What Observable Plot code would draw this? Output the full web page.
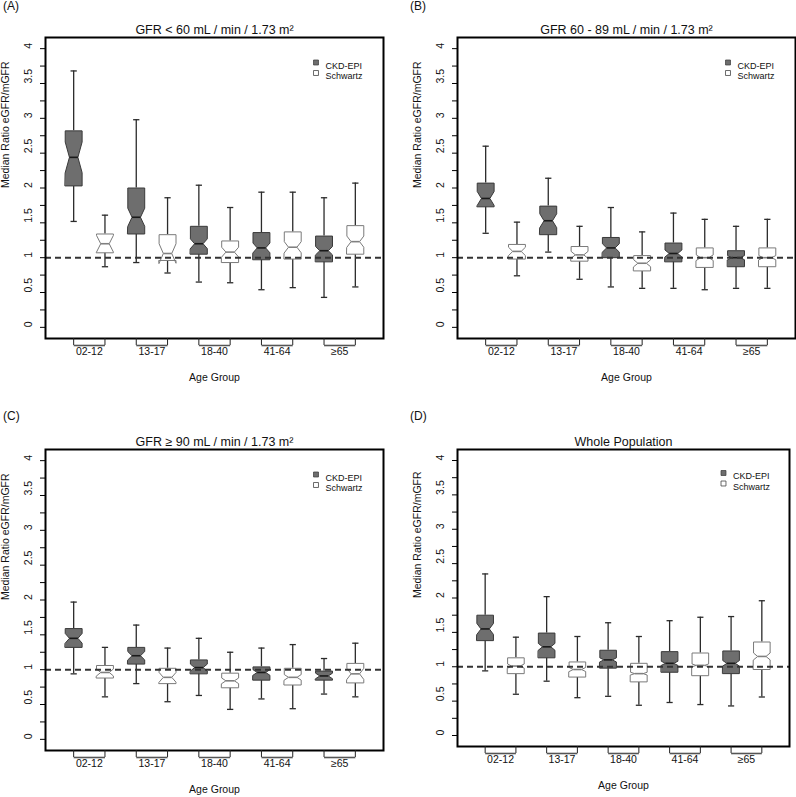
<!DOCTYPE html>
<html><head><meta charset="utf-8">
<script src="https://cdn.jsdelivr.net/npm/d3@7"></script>
<script src="https://cdn.jsdelivr.net/npm/@observablehq/plot@0.6"></script>
<style>
body{margin:0;background:#fff;font-family:"Liberation Sans",Arial,sans-serif;}
#root{position:relative;width:796px;height:797px;overflow:hidden;background:#fff;}
.panel{position:absolute;}
.tag{position:absolute;font-size:12px;line-height:12px;color:#111;white-space:nowrap;}
</style></head>
<body><div id="root"></div>
<script>
// ---------- data ----------
const groups = ["02-12", "13-17", "18-40", "41-64", "≥65"];
const seriesNames = ["CKD-EPI", "Schwartz"];
const yTickValues = [0,0.25,0.5,0.75,1,1.25,1.5,1.75,2,2.25,2.5,2.75,3,3.25,3.5,3.75,4];
const yLabelValues = [0,0.5,1,1.5,2,2.5,3,3.5,4];
const yLabelText = ["0","0.5","1","1.5","2","2.5","3","3.5","4"];
const panelTags = ["(A)","(B)","(C)","(D)"];
const panelTitles = ["GFR < 60 mL / min / 1.73 m²","GFR 60 - 89 mL / min / 1.73 m²","GFR ≥ 90 mL / min / 1.73 m²","Whole Population"];
const xAxisTitle = "Age Group";
const yAxisTitle = "Median Ratio eGFR/mGFR";
const referenceValue = [1];

// rows per age group: [lower whisker, Q1, notch low, median, notch high, Q3, upper whisker]
const ckdA = [
  [1.52, 2.03, 2.22, 2.44, 2.66, 2.82, 3.68],
  [0.93, 1.34, 1.45, 1.58, 1.71, 2.00, 2.98],
  [0.65, 1.05, 1.13, 1.20, 1.27, 1.45, 2.04],
  [0.54, 0.97, 1.07, 1.14, 1.21, 1.36, 1.94],
  [0.43, 0.94, 1.04, 1.10, 1.16, 1.31, 1.86]
];
const schA = [
  [0.87, 1.07, 1.08, 1.20, 1.32, 1.34, 1.61],
  [0.78, 0.96, 0.92, 1.06, 1.20, 1.33, 1.86],
  [0.64, 0.93, 1.01, 1.08, 1.15, 1.24, 1.72],
  [0.57, 0.98, 1.07, 1.15, 1.23, 1.37, 1.94],
  [0.58, 1.05, 1.15, 1.23, 1.31, 1.46, 2.07]
];
const ckdB = [
  [1.35, 1.73, 1.75, 1.85, 1.95, 2.07, 2.60],
  [1.08, 1.33, 1.43, 1.53, 1.63, 1.74, 2.14],
  [0.58, 1.00, 1.08, 1.14, 1.20, 1.29, 1.72],
  [0.56, 0.94, 1.01, 1.06, 1.11, 1.21, 1.64],
  [0.56, 0.87, 0.97, 1.00, 1.03, 1.10, 1.45]
];
const schB = [
  [0.74, 0.98, 1.03, 1.09, 1.15, 1.19, 1.51],
  [0.69, 0.95, 0.99, 1.04, 1.09, 1.16, 1.45],
  [0.56, 0.81, 0.87, 0.92, 0.97, 1.03, 1.37],
  [0.54, 0.86, 0.96, 1.00, 1.04, 1.14, 1.55],
  [0.56, 0.87, 0.97, 1.00, 1.03, 1.14, 1.55]
];
const ckdC = [
  [0.94, 1.32, 1.38, 1.45, 1.52, 1.59, 1.97],
  [0.80, 1.08, 1.14, 1.20, 1.26, 1.32, 1.64],
  [0.63, 0.94, 0.98, 1.03, 1.08, 1.14, 1.45],
  [0.58, 0.85, 0.92, 0.96, 1.00, 1.04, 1.31],
  [0.65, 0.85, 0.87, 0.91, 0.95, 0.98, 1.16]
];
const schC = [
  [0.61, 0.88, 0.91, 0.96, 1.01, 1.06, 1.32],
  [0.54, 0.80, 0.82, 0.89, 0.96, 1.02, 1.31],
  [0.43, 0.74, 0.80, 0.84, 0.88, 0.95, 1.25],
  [0.44, 0.78, 0.85, 0.89, 0.93, 1.02, 1.36],
  [0.61, 0.81, 0.86, 0.94, 1.02, 1.09, 1.38]
];
const ckdD = [
  [0.94, 1.38, 1.47, 1.55, 1.63, 1.75, 2.35],
  [0.79, 1.13, 1.24, 1.29, 1.34, 1.49, 2.02],
  [0.57, 0.98, 1.07, 1.10, 1.13, 1.24, 1.64],
  [0.48, 0.92, 1.02, 1.05, 1.08, 1.22, 1.67],
  [0.43, 0.90, 1.01, 1.05, 1.09, 1.23, 1.73]
];
const schD = [
  [0.60, 0.90, 0.98, 1.01, 1.04, 1.13, 1.43],
  [0.55, 0.85, 0.93, 0.96, 0.99, 1.07, 1.44],
  [0.44, 0.78, 0.88, 0.90, 0.92, 1.05, 1.44],
  [0.45, 0.87, 1.00, 1.02, 1.04, 1.20, 1.72],
  [0.56, 0.96, 1.10, 1.15, 1.20, 1.36, 1.96]
];

// ---------- layout ----------
const panels = [
  {ckd: ckdA, sch: schA, left: 0,   top: 0,   width: 412, height: 412, fw: 338, fh: 301, legDx: -67.5, legDy: 25},
  {ckd: ckdB, sch: schB, left: 412, top: 0,   width: 384, height: 412, fw: 338, fh: 301, legDx: -67.5, legDy: 25},
  {ckd: ckdC, sch: schC, left: 0,   top: 412, width: 412, height: 385, fw: 338, fh: 301, legDx: -67.5, legDy: 25},
  {ckd: ckdD, sch: schD, left: 412, top: 412, width: 384, height: 385, fw: 332, fh: 297, legDx: -66,   legDy: 23.5}
];
const tagPos = [[3,0],[410,0],[3,410],[410,410]];

const BOXW = 0.27, STAPLE = 0.1;
const CKD_FILL = "#6e6e6e", INK = "#2b2b2b", SCH_EDGE = "#7a7a7a";
const YMIN = -0.16, YMAX = 4.16;

const root = document.getElementById("root");

panels.forEach((p, k) => {
  const boxes = [];
  [p.ckd, p.sch].forEach((rows, s) => rows.forEach((r, i) => boxes.push({
    s, i, id: s + "-" + i, pos: 2 * i + 1 + s,
    lo: r[0], q1: r[1], nlo: r[2], med: r[3], nhi: r[4], q3: r[5], hi: r[6]
  })));
  const kx = [-1, 1, 1, 0.5, 1, 1, -1, -1, -0.5, -1];
  const poly = boxes.flatMap(b => {
    const ys = [b.q1, b.q1, b.nlo, b.med, b.nhi, b.q3, b.q3, b.nhi, b.med, b.nlo];
    return kx.map((c, j) => ({id: b.id, s: b.s, x: b.pos + c * BOXW, y: ys[j]}));
  });
  const ckdBoxes = boxes.filter(b => b.s === 0), schBoxes = boxes.filter(b => b.s === 1);
  const positions = boxes.map(b => b.pos).sort((a, b) => a - b);
  const fs = 10.5;

  const chart = Plot.plot({
    width: p.width, height: p.height,
    marginLeft: 45, marginTop: 37,
    marginRight: p.width - 45 - p.fw,
    marginBottom: p.height - 37 - p.fh,
    x: {type: "linear", domain: [0.1, 10.9], axis: null},
    y: {type: "linear", domain: [YMIN, YMAX], axis: null},
    style: {fontFamily: "'Liberation Sans', Arial, sans-serif", fontSize: fs + "px", color: "#111", background: "white", overflow: "visible"},
    marks: [
      // whiskers
      Plot.ruleX(boxes, {x: "pos", y1: "lo", y2: "q1", stroke: INK, strokeWidth: 1.3}),
      Plot.ruleX(boxes, {x: "pos", y1: "q3", y2: "hi", stroke: INK, strokeWidth: 1.3}),
      Plot.link(boxes, {x1: d => d.pos - STAPLE, x2: d => d.pos + STAPLE, y1: "lo", y2: "lo", stroke: INK, strokeWidth: 1.3}),
      Plot.link(boxes, {x1: d => d.pos - STAPLE, x2: d => d.pos + STAPLE, y1: "hi", y2: "hi", stroke: INK, strokeWidth: 1.3}),
      // notched boxes
      Plot.line(poly.filter(d => d.s === 0), {x: "x", y: "y", z: "id", curve: "linear-closed", fill: CKD_FILL, stroke: "#3a3a3a", strokeWidth: 1}),
      Plot.line(poly.filter(d => d.s === 1), {x: "x", y: "y", z: "id", curve: "linear-closed", fill: "white", stroke: SCH_EDGE, strokeWidth: 1}),
      // medians
      Plot.link(ckdBoxes, {x1: d => d.pos - BOXW / 2, x2: d => d.pos + BOXW / 2, y1: "med", y2: "med", stroke: "#1a1a1a", strokeWidth: 1.6}),
      Plot.link(schBoxes, {x1: d => d.pos - BOXW / 2, x2: d => d.pos + BOXW / 2, y1: "med", y2: "med", stroke: "#808080", strokeWidth: 1.6}),
      // reference line
      Plot.ruleY(referenceValue, {stroke: "#333", strokeWidth: 2, strokeDasharray: "6,4"}),
      // frame
      Plot.frame({stroke: "black", strokeWidth: 2}),
      // y axis
      Plot.axisY({ticks: yTickValues, tickSize: 5, tickFormat: () => "", label: null, stroke: "black"}),
      Plot.text(yLabelValues, {y: d => d, text: (d, i) => yLabelText[i], frameAnchor: "left", dx: -16.4, rotate: -90, fontSize: fs, fill: "#111"}),
      Plot.text([yAxisTitle], {frameAnchor: "left", dx: -40, rotate: -90, fontSize: fs, fill: "#111"}),
      // x axis brackets
      Plot.axisX({ticks: positions, tickSize: 7, tickFormat: () => "", label: null, stroke: "#222"}),
      Plot.link(groups, {x1: (d, i) => 2 * i + 1, x2: (d, i) => 2 * i + 2, y1: YMIN, y2: YMIN, dy: 7, stroke: "#555", strokeWidth: 1.6}),
      Plot.text(groups, {x: (d, i) => 2 * i + 1.5, frameAnchor: "bottom", dy: 16, fontSize: fs, fill: "#111"}),
      Plot.text([xAxisTitle], {frameAnchor: "bottom", dy: 42.5, fontSize: fs, fill: "#111"}),
      // title
      Plot.text([panelTitles[k]], {frameAnchor: "top", dy: -12, fontSize: 12.5, fill: "#111"}),
      // legend
      Plot.dot([seriesNames[0]], {frameAnchor: "top-right", dx: p.legDx, dy: p.legDy, symbol: "square", r: 2.8, fill: CKD_FILL, stroke: "#444", strokeWidth: 0.8}),
      Plot.dot([seriesNames[1]], {frameAnchor: "top-right", dx: p.legDx, dy: p.legDy + 10.5, symbol: "square", r: 2.8, fill: "white", stroke: "#444", strokeWidth: 0.8}),
      Plot.text([seriesNames[0]], {frameAnchor: "top-right", dx: p.legDx + 9.5, dy: p.legDy, textAnchor: "start", fontSize: 9, fill: "#111"}),
      Plot.text([seriesNames[1]], {frameAnchor: "top-right", dx: p.legDx + 9.5, dy: p.legDy + 10.5, textAnchor: "start", fontSize: 9, fill: "#111"})
    ]
  });
  const wrap = document.createElement("div");
  wrap.className = "panel";
  wrap.style.left = p.left + "px";
  wrap.style.top = p.top + "px";
  wrap.appendChild(chart);
  root.appendChild(wrap);

  const tag = document.createElement("div");
  tag.className = "tag";
  tag.style.left = tagPos[k][0] + "px";
  tag.style.top = tagPos[k][1] + "px";
  tag.textContent = panelTags[k];
  root.appendChild(tag);
});
</script>
</body></html>
